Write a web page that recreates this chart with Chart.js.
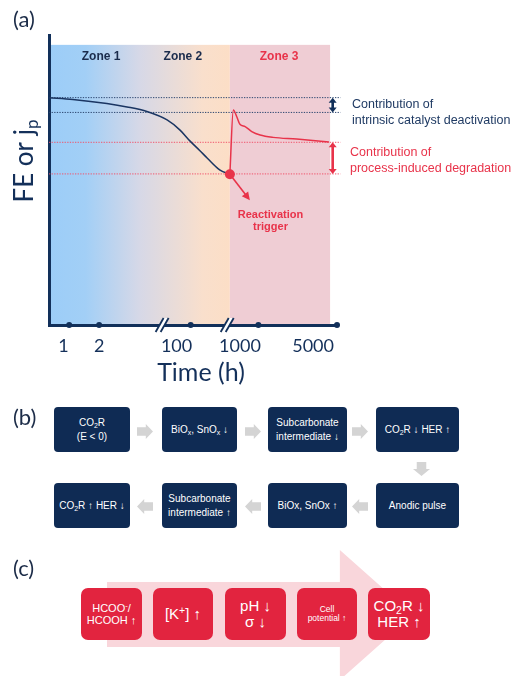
<!DOCTYPE html>
<html>
<head>
<meta charset="utf-8">
<script src="https://cdn.jsdelivr.net/npm/chart.js@4.4.1/dist/chart.umd.min.js"></script>
<style>
  html, body { margin: 0; padding: 0; background: #fff; }
  #page { position: relative; width: 512px; height: 676px; overflow: hidden; font-family: "Liberation Sans", Arial, sans-serif; }
  #plot { position: absolute; left: 0; top: 0; }
  .tag { position: absolute; font-family: Lato, sans-serif; font-size: 22px; line-height: 1; color: #1c2c48; }
  .nb { position: absolute; box-sizing: border-box; background: #0f2b54; color: #fff; border-radius: 4px;
        display: flex; align-items: center; justify-content: center; text-align: center;
        font-size: 10px; line-height: 1.35; }
  .rb { position: absolute; box-sizing: border-box; background: #e2243f; color: #fff; border-radius: 7px;
        display: flex; align-items: center; justify-content: center; text-align: center; }
  .ga { position: absolute; background: #d4d4d4; }
  .ga.right { clip-path: polygon(0 22%, 55% 22%, 55% 0, 100% 50%, 55% 100%, 55% 78%, 0 78%); }
  .ga.left  { clip-path: polygon(100% 22%, 45% 22%, 45% 0, 0 50%, 45% 100%, 45% 78%, 100% 78%); }
  .ga.down  { clip-path: polygon(22% 0, 78% 0, 78% 50%, 100% 50%, 50% 100%, 0 50%, 22% 50%); }
  sub, sup { font-size: 70%; line-height: 0; position: relative; vertical-align: baseline; }
  sub { top: 0.3em; }
  sup { top: -0.45em; }
  #bigArrow { position: absolute; left: 107px; top: 550px; width: 306px; height: 130px; background: #f9d6db;
              clip-path: polygon(0 24.6%, 76.1% 24.6%, 76.1% 0, 100% 50%, 76.1% 100%, 76.1% 74.6%, 0 74.6%); }
</style>
</head>
<body>
<div id="page">
  <canvas id="plot" width="512" height="390"></canvas>
  <div class="tag" style="left:13px; top:8px;">(a)</div>
  <div class="tag" style="left:13px; top:406px;">(b)</div>
  <div class="tag" style="left:13px; top:557px;">(c)</div>
  <div id="bigArrow"></div>
</div>
<script>
// ---- panel (a): schematic stability curve on a broken time axis ----
const timeTickLabels   = ['1', '2', '100', '1000', '5000'];
const timeTickLabelPos = [5.0, 17.4, 44.3, 66.3, 91.7];
const timeAxisMarks    = [7.0, 17.4, 49.2, 72.7, 100];
const timeAxisBreaks   = [39.1, 61.7];

const intrinsicT  = [0, 8.3, 20.1, 27.1, 34.0, 41.0, 45.5, 49.0, 52.4, 54.9, 59.4, 62.8];
const intrinsicFE = [78.4, 77.8, 76.4, 75.2, 73.6, 70.7, 67.2, 63.4, 60.1, 57.6, 53.4, 52.0];

const recoveryT  = [62.8, 64.0, 65.2, 66.3, 68.1, 70.4, 73.3, 77.8, 86.0, 97.2];
const recoveryFE = [52.0, 74.1, 71.8, 69.2, 68.4, 66.7, 65.5, 64.7, 64.1, 63.1];

const levelFE    = [78.4, 73.3, 63.0, 52.1];
const levelKind  = ['intrinsic', 'intrinsic', 'process', 'process'];

const zoneNames   = ['Zone 1', 'Zone 2', 'Zone 3'];
const zoneLabelT  = [18.1, 46.5, 79.9];
const zoneEdgesT  = [0, 62.8, 97.6];

const triggerT  = 62.8;
const triggerFE = 52.0;

// ---- panel (b): reactivation mechanism ----
const cycleTopRow = ['CO<sub>2</sub>R<br>(E &lt; 0)', 'BiO<sub>x</sub>, SnO<sub>x</sub> ↓',
                     'Subcarbonate<br>intermediate ↓', 'CO<sub>2</sub>R ↓ HER ↑'];
const cycleBottomRow = ['CO<sub>2</sub>R ↑ HER ↓', 'Subcarbonate<br>intermediate ↑',
                        'BiOx, SnOx ↑', 'Anodic pulse'];

// ---- panel (c): process-induced degradation chain ----
const chainSteps = ['HCOO<sup>-</sup>/<br>HCOOH ↑', '[K<sup>+</sup>] ↑', 'pH ↓<br>σ ↓',
                    'Cell<br>potential ↑', 'CO<sub>2</sub>R ↓<br>HER ↑'];
const chainFontSize = [11, 15, 15, 8.5, 15];

const NAVY = '#12305a';
const RED = '#e8334a';

const pts = (xs, ys) => xs.map((x, i) => ({ x, y: ys[i] }));

const decor = {
  id: 'decor',
  beforeDraw(chart) {
    const { ctx, scales: { x, y } } = chart;
    const x0 = x.getPixelForValue(zoneEdgesT[0]);
    const x1 = x.getPixelForValue(zoneEdgesT[1]);
    const x2 = x.getPixelForValue(zoneEdgesT[2]);
    const yt = y.getPixelForValue(96.6);
    const yb = y.getPixelForValue(0);
    const g = ctx.createLinearGradient(x0, 0, x1, 0);
    g.addColorStop(0.0, '#9ccdf8');
    g.addColorStop(0.2, '#a2cff6');
    g.addColorStop(0.5, '#d6d8e7');
    g.addColorStop(0.85, '#f9dfcc');
    g.addColorStop(1.0, '#fcdec6');
    ctx.save();
    ctx.fillStyle = g;
    ctx.fillRect(x0, yt, x1 - x0, yb - yt);
    ctx.fillStyle = '#efcdd4';
    ctx.fillRect(x1, yt, x2 - x1, yb - yt);
    ctx.restore();
  },
  afterDraw(chart) {
    const { ctx, scales: { x, y } } = chart;
    const yAxis = y.getPixelForValue(0);
    ctx.save();

    // broken-axis marks
    timeAxisBreaks.forEach(t => {
      const bx = x.getPixelForValue(t);
      ctx.fillStyle = '#fff';
      ctx.beginPath();
      ctx.moveTo(bx - 6, yAxis + 7); ctx.lineTo(bx + 2, yAxis - 7);
      ctx.lineTo(bx + 7, yAxis - 7); ctx.lineTo(bx - 1, yAxis + 7);
      ctx.closePath(); ctx.fill();
      ctx.strokeStyle = NAVY; ctx.lineWidth = 1.8;
      [-6, -1].forEach(o => {
        ctx.beginPath();
        ctx.moveTo(bx + o, yAxis + 7); ctx.lineTo(bx + o + 8, yAxis - 7); ctx.stroke();
      });
    });

    // zone captions
    ctx.font = 'bold 12px "Liberation Sans", Arial, sans-serif';
    ctx.textAlign = 'center'; ctx.textBaseline = 'middle';
    zoneNames.forEach((n, i) => {
      ctx.fillStyle = i === 2 ? RED : '#1b2c4c';
      ctx.fillText(n, x.getPixelForValue(zoneLabelT[i]), y.getPixelForValue(92.4));
    });

    // double-headed bars marking each contribution
    const dbl = (t, fa, fb, col) => {
      const px = x.getPixelForValue(t);
      const ya = y.getPixelForValue(fa), yb2 = y.getPixelForValue(fb);
      ctx.fillStyle = col; ctx.strokeStyle = col; ctx.lineWidth = 2.6;
      ctx.beginPath(); ctx.moveTo(px, ya + 4); ctx.lineTo(px, yb2 - 4); ctx.stroke();
      ctx.beginPath(); ctx.moveTo(px, ya); ctx.lineTo(px - 4, ya + 5); ctx.lineTo(px + 4, ya + 5); ctx.fill();
      ctx.beginPath(); ctx.moveTo(px, yb2); ctx.lineTo(px - 4, yb2 - 5); ctx.lineTo(px + 4, yb2 - 5); ctx.fill();
    };
    dbl(98.5, levelFE[0], levelFE[1], NAVY);
    dbl(98.5, levelFE[2], levelFE[3], RED);

    // side notes
    ctx.textAlign = 'left'; ctx.textBaseline = 'alphabetic';
    ctx.font = '12.5px "Liberation Sans", Arial, sans-serif';
    ctx.fillStyle = '#1f3a63';
    ctx.fillText('Contribution of', 352, 107.5);
    ctx.fillText('intrinsic catalyst deactivation', 352, 123.5);
    ctx.fillStyle = RED;
    ctx.fillText('Contribution of', 350, 156);
    ctx.fillText('process-induced degradation', 350, 171.5);

    // trigger arrow
    const tx = x.getPixelForValue(triggerT), ty = y.getPixelForValue(triggerFE);
    const hx = tx + 20, hy = ty + 26;
    const ang = Math.atan2(hy - ty, hx - tx);
    ctx.strokeStyle = RED; ctx.fillStyle = RED; ctx.lineWidth = 1.6;
    ctx.beginPath(); ctx.moveTo(tx, ty); ctx.lineTo(hx - 5 * Math.cos(ang), hy - 5 * Math.sin(ang)); ctx.stroke();
    ctx.beginPath();
    ctx.moveTo(hx, hy);
    ctx.lineTo(hx - 8 * Math.cos(ang) + 4 * Math.sin(ang), hy - 8 * Math.sin(ang) - 4 * Math.cos(ang));
    ctx.lineTo(hx - 8 * Math.cos(ang) - 4 * Math.sin(ang), hy - 8 * Math.sin(ang) + 4 * Math.cos(ang));
    ctx.closePath(); ctx.fill();
    ctx.font = 'bold 11px "Liberation Sans", Arial, sans-serif';
    ctx.textAlign = 'center'; ctx.textBaseline = 'middle';
    ctx.fillText('Reactivation', 270.5, 214.5);
    ctx.fillText('trigger', 270.5, 227);

    // axis titles
    ctx.fillStyle = '#14305a';
    ctx.font = '25px Lato, sans-serif';
    ctx.textAlign = 'center'; ctx.textBaseline = 'alphabetic';
    ctx.fillText('Time (h)', 201, 381);

    ctx.translate(33, 161);
    ctx.rotate(-Math.PI / 2);
    ctx.textAlign = 'left';
    ctx.font = '26px Lato, sans-serif';
    const main = 'FE or j';
    const w1 = ctx.measureText(main).width;
    ctx.font = '17px Lato, sans-serif';
    const w2 = ctx.measureText('p').width;
    ctx.font = '26px Lato, sans-serif';
    ctx.fillText(main, -(w1 + w2) / 2, 0);
    ctx.font = '17px Lato, sans-serif';
    ctx.fillText('p', -(w1 + w2) / 2 + w1, 5);
    ctx.restore();
  }
};

const datasets = [
  { label: 'trigger', data: [{ x: triggerT, y: triggerFE }], showLine: false,
    pointRadius: 5, pointBackgroundColor: RED, pointBorderWidth: 0, clip: false },
  { label: 'axis marks', data: timeAxisMarks.map(t => ({ x: t, y: 0 })), showLine: false,
    pointRadius: 3, pointBackgroundColor: NAVY, pointBorderWidth: 0, clip: false },
  { label: 'recovery', data: pts(recoveryT, recoveryFE), borderColor: RED, borderWidth: 1.5,
    pointRadius: 0, cubicInterpolationMode: 'monotone', clip: false },
  { label: 'intrinsic', data: pts(intrinsicT, intrinsicFE), borderColor: '#1a3562', borderWidth: 1.5,
    pointRadius: 0, cubicInterpolationMode: 'monotone', clip: false },
  ...levelFE.map((v, i) => ({
    label: 'level ' + (i + 1), data: [{ x: 0, y: v }, { x: 101.2, y: v }],
    borderColor: levelKind[i] === 'intrinsic' ? '#2d4770' : '#f0546c',
    borderWidth: 1, borderDash: [1.3, 1.3], pointRadius: 0, clip: false
  }))
];

new Chart(document.getElementById('plot'), {
  type: 'line',
  data: { datasets },
  options: {
    responsive: false, animation: false, devicePixelRatio: 1,
    layout: { padding: { left: 0, top: 35, right: 175, bottom: 0 } },
    plugins: { legend: { display: false }, tooltip: { enabled: false } },
    scales: {
      x: {
        type: 'linear', min: 0, max: 100,
        grid: { display: false, drawTicks: false },
        border: { display: true, color: NAVY, width: 3 },
        afterBuildTicks: s => { s.ticks = timeTickLabelPos.map(v => ({ value: v })); },
        afterFit: s => { s.height = 65; },
        ticks: {
          autoSkip: false, maxRotation: 0, padding: 10, color: '#14305a',
          font: { family: 'Lato', size: 18 },
          callback: (v, i) => timeTickLabels[i]
        }
      },
      y: {
        type: 'linear', min: 0, max: 100,
        grid: { display: false, drawTicks: false },
        border: { display: true, color: NAVY, width: 3 },
        ticks: { display: false },
        afterFit: s => { s.width = 49; }
      }
    }
  },
  plugins: [decor]
});

// ---- build panels (b) and (c) ----
const page = document.getElementById('page');
const add = (cls, style, html) => {
  const d = document.createElement('div');
  d.className = cls; d.style.cssText = style;
  if (html) { const inner = document.createElement('div'); inner.innerHTML = html; d.appendChild(inner); }
  page.appendChild(d); return d;
};
const boxX = [54, 162, 268, 376];
const boxW = [76, 75, 79, 83];
cycleTopRow.forEach((t, i) => add('nb', `left:${boxX[i]}px;top:407px;width:${boxW[i]}px;height:45px;`, t));
cycleBottomRow.forEach((t, i) => add('nb', `left:${boxX[i]}px;top:483px;width:${boxW[i]}px;height:45px;`, t));
[137, 245, 352].forEach(ax => add('ga right', `left:${ax}px;top:424px;width:16px;height:15px;`));
[137, 245, 352].forEach(ax => add('ga left', `left:${ax}px;top:499px;width:16px;height:15px;`));
add('ga down', 'left:413px;top:462px;width:17px;height:14px;');

const chainX = [81, 153, 225, 297, 368];
const chainW = [61, 60, 61, 60, 62];
chainSteps.forEach((t, i) => add('rb',
  `left:${chainX[i]}px;top:588px;width:${chainW[i]}px;height:52px;font-size:${chainFontSize[i]}px;line-height:${chainFontSize[i] > 12 ? 1.05 : 1.1};`, t));
</script>
</body>
</html>
